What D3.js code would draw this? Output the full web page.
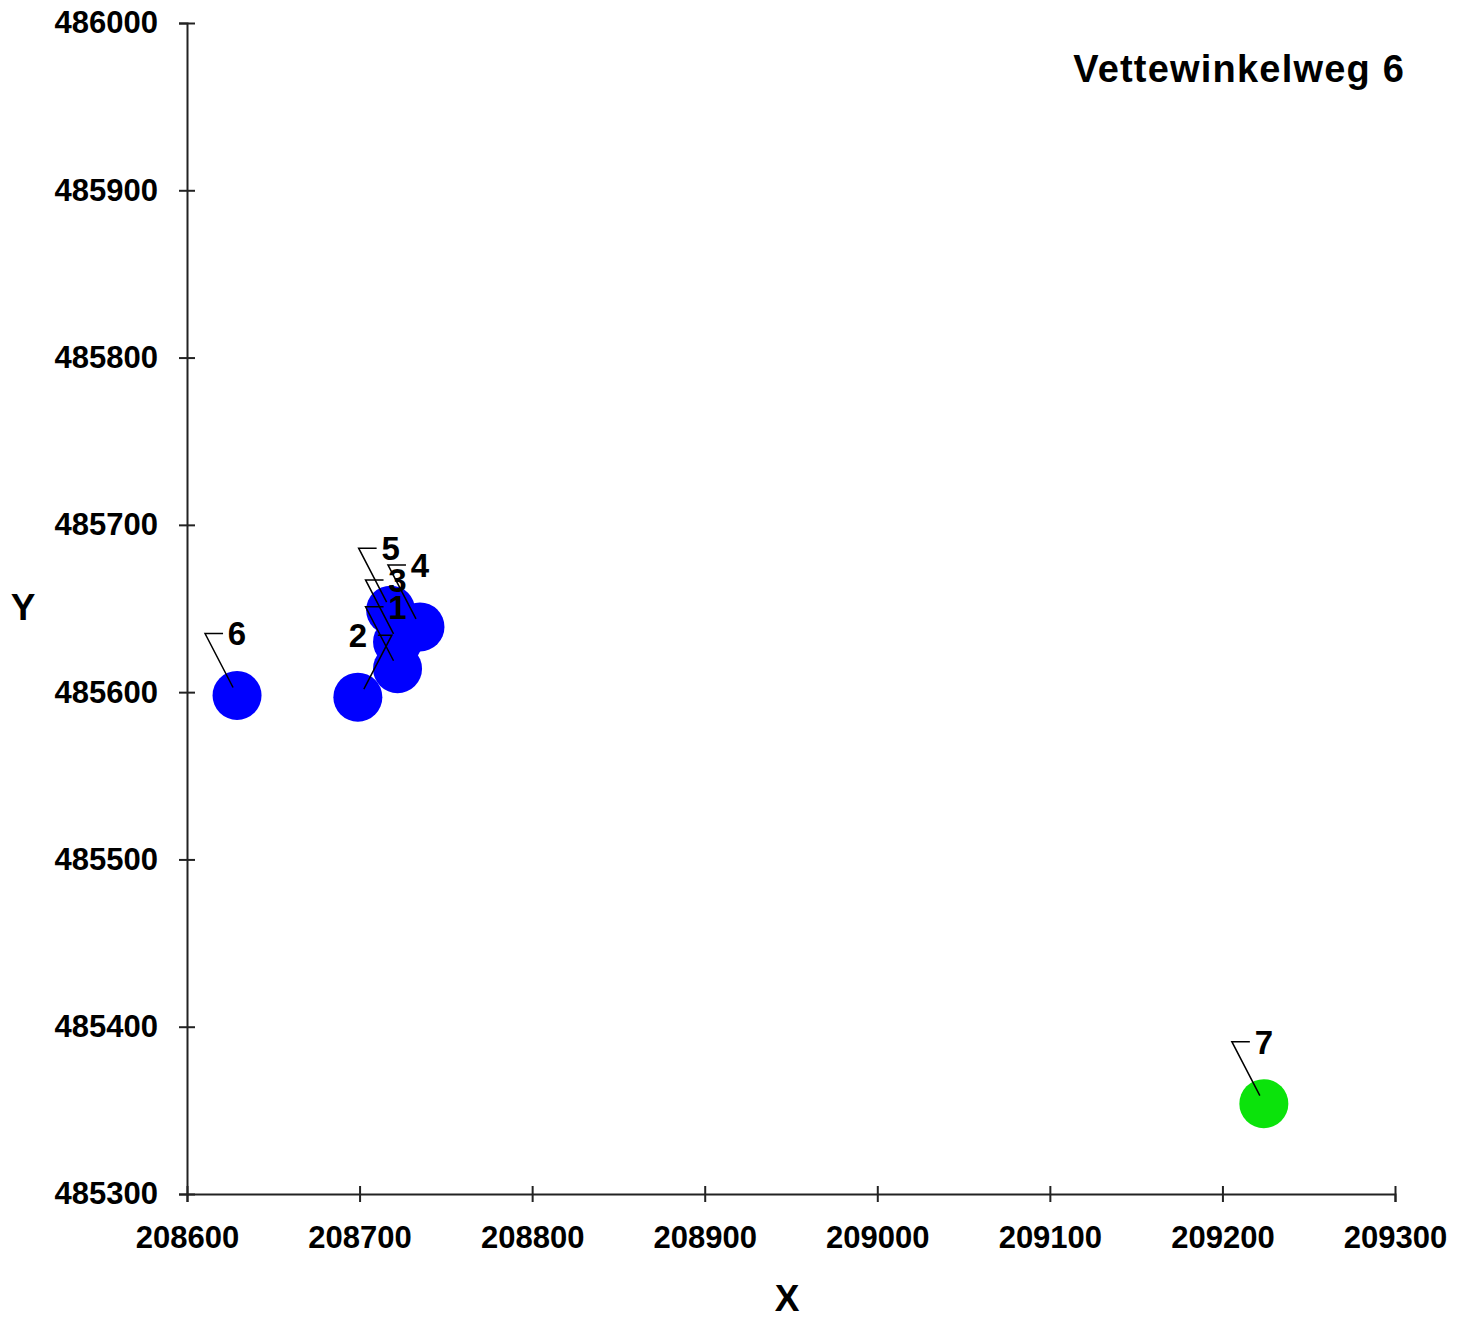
<!DOCTYPE html>
<html>
<head>
<meta charset="utf-8">
<script src="https://cdn.jsdelivr.net/npm/d3@7"></script>
<style>
  body { margin: 0; background: #fff; }
  svg text { font-family: "Liberation Sans", Arial, sans-serif; font-weight: bold; fill: #000; }
</style>
</head>
<body>
<svg id="chart" width="1469" height="1319"></svg>
<script>
// point data
var labels = ["1", "2", "3", "4", "5", "6", "7"];
var xs = [208722, 208699, 208722, 208735, 208718, 208629, 209224];
var ys = [485614, 485597, 485630, 485639, 485649, 485598, 485354];
var groups = ["blue", "blue", "blue", "blue", "blue", "blue", "green"];

var xTicks = [208600, 208700, 208800, 208900, 209000, 209100, 209200, 209300];
var yTicks = [485300, 485400, 485500, 485600, 485700, 485800, 485900, 486000];
var title = "Vettewinkelweg 6";

var colors = { blue: "#0000ff", green: "#0be30b" };
// labels whose leader line goes to the right instead of the left
var mirrored = ["2"];

var data = labels.map(function(l, i) {
  return { label: l, x: xs[i], y: ys[i], group: groups[i] };
});

var svg = d3.select("#chart");
var plotL = 187, plotR = 1395, plotT = 23, plotB = 1194;

var x = d3.scaleLinear().domain([208600, 209300]).range([plotL, plotR]),
    y = d3.scaleLinear().domain([485300, 486000]).range([plotB, plotT]);

var xAxis = svg.append("g")
    .attr("transform", "translate(0," + plotB + ")")
    .call(d3.axisBottom(x).tickValues(xTicks).tickFormat(d3.format("d")).tickSize(8).tickPadding(24));
xAxis.select(".domain").attr("stroke", "#222").attr("stroke-width", 2);
xAxis.selectAll(".tick line").attr("y1", -8).attr("stroke", "#222").attr("stroke-width", 2);
xAxis.selectAll(".tick text").style("font-size", "31px").attr("fill", "#000");

var yAxis = svg.append("g")
    .attr("transform", "translate(" + plotL + ",0)")
    .call(d3.axisLeft(y).tickValues(yTicks).tickFormat(d3.format("d")).tickSize(8).tickPadding(21));
yAxis.select(".domain").attr("stroke", "#222").attr("stroke-width", 2);
yAxis.selectAll(".tick line").attr("x1", 8).attr("stroke", "#222").attr("stroke-width", 2);
yAxis.selectAll(".tick text").style("font-size", "31px").attr("fill", "#000");

// points
svg.selectAll(".pt")
  .data(data)
  .enter().append("circle")
    .attr("class", "pt")
    .attr("cx", function(d) { return x(d.x); })
    .attr("cy", function(d) { return y(d.y); })
    .attr("r", 24.5)
    .attr("fill", function(d) { return colors[d.group]; });

// leader lines + labels
var lead = svg.selectAll(".lead")
  .data(data)
  .enter().append("g")
    .attr("class", "lead")
    .attr("transform", function(d) { return "translate(" + x(d.x) + "," + y(d.y) + ")"; });

lead.append("polyline")
    .attr("points", function(d) {
      return mirrored.indexOf(d.label) >= 0 ? "6,-8 34,-62 20,-62" : "-4,-8 -32,-62 -14,-62";
    })
    .attr("fill", "none")
    .attr("stroke", "#000")
    .attr("stroke-width", 1.5);

lead.append("text")
    .attr("x", 0)
    .attr("y", -62)
    .attr("dy", "0.36em")
    .attr("text-anchor", "middle")
    .style("font-size", "33px")
    .text(function(d) { return d.label; });

// title and axis names
svg.append("text")
    .attr("x", 1405)
    .attr("y", 68)
    .attr("dy", "0.36em")
    .attr("text-anchor", "end")
    .style("font-size", "38px")
    .style("letter-spacing", "1.2px")
    .text(title);

svg.append("text")
    .attr("x", 787)
    .attr("y", 1298)
    .attr("dy", "0.36em")
    .attr("text-anchor", "middle")
    .style("font-size", "37px")
    .text("X");

svg.append("text")
    .attr("x", 23)
    .attr("y", 607)
    .attr("dy", "0.36em")
    .attr("text-anchor", "middle")
    .style("font-size", "37px")
    .text("Y");
</script>
</body>
</html>
